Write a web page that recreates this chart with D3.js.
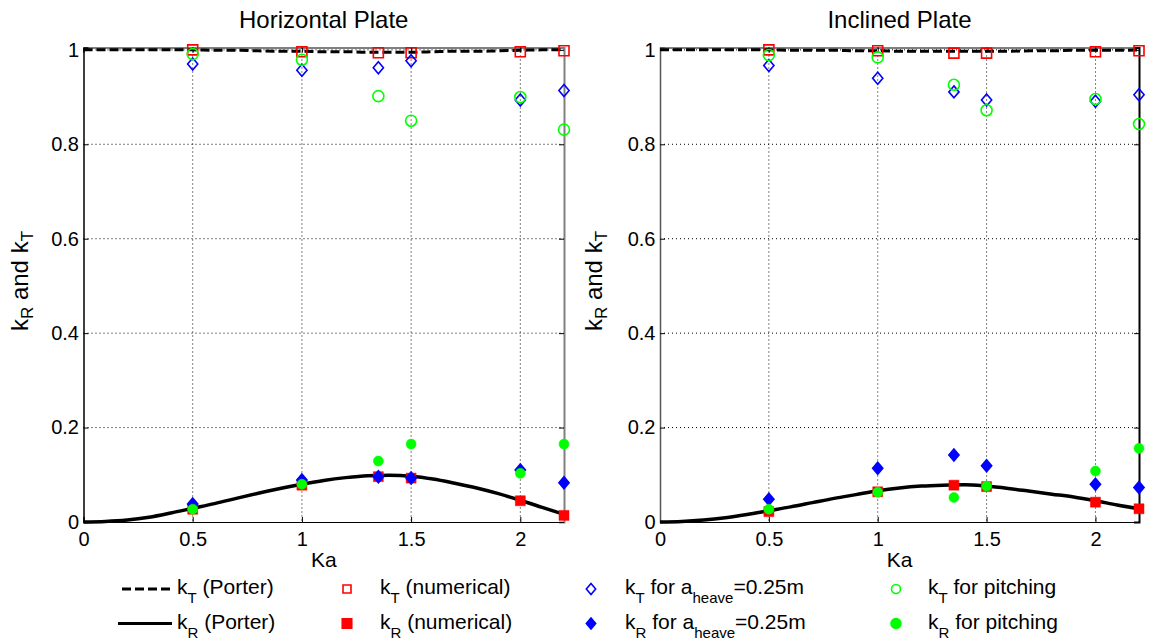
<!DOCTYPE html>
<html>
<head>
<meta charset="utf-8">
<script src="https://cdn.jsdelivr.net/npm/d3@7"></script>
<style>
  body { margin: 0; background: #fff; }
  text { font-family: "Liberation Sans", Arial, sans-serif; fill: #000; }
</style>
</head>
<body>
<script>
// Ka sample points for the Porter curves
const porterKa = [0, 0.1, 0.2, 0.3, 0.4, 0.5, 0.6, 0.7, 0.8, 0.9, 1.0, 1.1, 1.2, 1.3, 1.4, 1.5, 1.6, 1.7, 1.8, 1.9, 2.0, 2.1, 2.2]
// Ka of the measured / computed points
const pointKa = [0.5, 1.0, 1.35, 1.5, 2.0, 2.2]

// Horizontal plate
const hPorterKR = [0, 0.001, 0.004, 0.010, 0.019, 0.029, 0.039, 0.050, 0.061, 0.071, 0.080, 0.088, 0.094, 0.098, 0.099, 0.097, 0.091, 0.082, 0.072, 0.060, 0.046, 0.031, 0.016]
const hPorterKT = [1.000, 1.000, 1.000, 1.000, 1.000, 1.000, 0.999, 0.999, 0.998, 0.997, 0.997, 0.996, 0.996, 0.995, 0.995, 0.995, 0.996, 0.997, 0.997, 0.998, 0.999, 1.000, 1.000]
const hNumKT = [1.000, 0.996, 0.994, 0.994, 0.996, 0.998]
const hNumKR = [0.027, 0.078, 0.096, 0.093, 0.045, 0.014]
const hHeaveKT = [0.970, 0.957, 0.962, 0.977, 0.894, 0.914]
const hHeaveKR = [0.038, 0.089, 0.096, 0.093, 0.110, 0.083]
const hPitchKT = [0.991, 0.979, 0.902, 0.850, 0.900, 0.831]
const hPitchKR = [0.027, 0.080, 0.129, 0.165, 0.103, 0.165]

// Inclined plate
const iPorterKR = [0, 0.001, 0.004, 0.009, 0.016, 0.024, 0.032, 0.041, 0.050, 0.058, 0.066, 0.072, 0.076, 0.078, 0.079, 0.076, 0.071, 0.065, 0.059, 0.053, 0.045, 0.036, 0.028]
const iPorterKT = [1.000, 1.000, 1.000, 1.000, 1.000, 1.000, 0.999, 0.999, 0.999, 0.998, 0.998, 0.997, 0.997, 0.997, 0.997, 0.997, 0.997, 0.998, 0.998, 0.999, 0.999, 0.999, 1.000]
const iNumKT = [1.000, 0.998, 0.993, 0.993, 0.996, 0.998]
const iNumKR = [0.022, 0.064, 0.078, 0.075, 0.042, 0.028]
const iHeaveKT = [0.967, 0.940, 0.911, 0.894, 0.891, 0.905]
const iHeaveKR = [0.048, 0.114, 0.142, 0.119, 0.080, 0.073]
const iPitchKT = [0.989, 0.984, 0.926, 0.872, 0.896, 0.843]
const iPitchKR = [0.027, 0.063, 0.052, 0.076, 0.108, 0.156]

const xTicks = [0, 0.5, 1, 1.5, 2]
const yTicks = [0, 0.2, 0.4, 0.6, 0.8, 1]

const RED = "#ff0000", BLUE = "#0000ff", GREEN = "#00ff00"

var width = 1149,
    height = 642;

var svg = d3.select("body").append("svg")
    .attr("width", width)
    .attr("height", height);

const panels = [
    { title: "Horizontal Plate", x0: 83.5, x1: 564, leftColor: "#000", rightColor: "#808080", ylabX: 28,
      pKR: hPorterKR, pKT: hPorterKT, numKT: hNumKT, numKR: hNumKR,
      heaveKT: hHeaveKT, heaveKR: hHeaveKR, pitchKT: hPitchKT, pitchKR: hPitchKR },
    { title: "Inclined Plate", x0: 660, x1: 1139, leftColor: "#555", rightColor: "#000", ylabX: 602,
      pKR: iPorterKR, pKT: iPorterKT, numKT: iNumKT, numKR: iNumKR,
      heaveKT: iHeaveKT, heaveKR: iHeaveKR, pitchKT: iPitchKT, pitchKR: iPitchKR }
]

const yTop = 47.5, yBot = 522

// subscript helper: parts = [[text, isSub], ...]
function richText(sel, parts, subSize, shift) {
    let down = false
    parts.forEach(([t, sub]) => {
        const ts = sel.append("tspan").text(t)
        if (sub) {
            ts.attr("font-size", subSize)
            if (!down) { ts.attr("dy", shift); down = true }
        } else if (down) { ts.attr("dy", -shift); down = false }
    })
}

const sqr = d3.symbol().type(d3.symbolSquare)
const diamondPath = s => `M0,${-s}L${s * 0.85},0L0,${s}L${-s * 0.85},0Z`

panels.forEach(p => {
    const x = d3.scaleLinear().domain([0, 2.2]).range([p.x0, p.x1])
    const y = d3.scaleLinear().domain([0, 1.005]).range([yBot, yTop])
    const g = svg.append("g")

    // grid
    g.selectAll(".gx").data(xTicks.slice(1)).join("line")
        .attr("x1", d => x(d)).attr("x2", d => x(d))
        .attr("y1", yTop).attr("y2", yBot)
        .attr("stroke", "#000").attr("stroke-width", 1).attr("stroke-dasharray", "1,3")
    g.selectAll(".gy").data(yTicks.slice(1)).join("line")
        .attr("x1", p.x0).attr("x2", p.x1)
        .attr("y1", d => y(d)).attr("y2", d => y(d))
        .attr("stroke", "#000").attr("stroke-width", 1).attr("stroke-dasharray", "1,3")

    // axes with inward ticks
    g.append("g").attr("transform", `translate(0,${yBot})`)
        .call(d3.axisBottom(x).tickValues(xTicks).tickSize(-5).tickPadding(9.5).tickFormat(d3.format("")))
    g.append("g").attr("transform", `translate(0,${yTop})`)
        .call(d3.axisTop(x).tickValues(xTicks).tickSize(-5).tickFormat(""))
    const la = g.append("g").attr("transform", `translate(${p.x0},0)`)
        .call(d3.axisLeft(y).tickValues(yTicks).tickSize(-5).tickPadding(4.5).tickFormat(d3.format("")))
    const ra = g.append("g").attr("transform", `translate(${p.x1},0)`)
        .call(d3.axisRight(y).tickValues(yTicks).tickSize(-5).tickFormat(""))
    g.selectAll(".domain").attr("stroke", "#000")
    g.selectAll(".tick line").attr("stroke", "#000")
    la.select(".domain").attr("stroke", p.leftColor).attr("stroke-width", 1.5)
    ra.select(".domain").attr("stroke", p.rightColor).attr("stroke-width", 2)
    g.selectAll(".tick text").attr("font-size", 20)

    // Porter curves
    const line = d3.line().x((d, i) => x(porterKa[i])).y(d => y(d)).curve(d3.curveMonotoneX)
    g.append("path").datum(p.pKT).attr("d", line).attr("fill", "none")
        .attr("stroke", "#000").attr("stroke-width", 3).attr("stroke-dasharray", "9,4")
    g.append("path").datum(p.pKR).attr("d", line).attr("fill", "none")
        .attr("stroke", "#000").attr("stroke-width", 3.5)

    const drawSquares = (vals, filled) => g.selectAll(null).data(vals).join("path")
        .attr("d", sqr.size(100)())
        .attr("transform", (d, i) => `translate(${x(pointKa[i])},${y(d)})`)
        .attr("fill", filled ? RED : "none").attr("stroke", RED).attr("stroke-width", filled ? 0.5 : 1.6)
    const drawDiamonds = (vals, filled) => g.selectAll(null).data(vals).join("path")
        .attr("d", diamondPath(6))
        .attr("transform", (d, i) => `translate(${x(pointKa[i])},${y(d)})`)
        .attr("fill", filled ? BLUE : "none").attr("stroke", BLUE).attr("stroke-width", 1.6)
    const drawCircles = (vals, filled) => g.selectAll(null).data(vals).join("circle")
        .attr("cx", (d, i) => x(pointKa[i])).attr("cy", d => y(d))
        .attr("r", filled ? 5 : 5.5)
        .attr("fill", filled ? GREEN : "none").attr("stroke", GREEN).attr("stroke-width", filled ? 0.5 : 1.6)

    drawSquares(p.numKT, false)
    drawSquares(p.numKR, true)
    drawDiamonds(p.heaveKT, false)
    drawDiamonds(p.heaveKR, true)
    drawCircles(p.pitchKT, false)
    drawCircles(p.pitchKR, true)

    // title and labels
    const cx = (p.x0 + p.x1) / 2
    svg.append("text").attr("x", cx).attr("y", 28).attr("text-anchor", "middle")
        .attr("font-size", 24).text(p.title)
    svg.append("text").attr("x", cx).attr("y", 567).attr("text-anchor", "middle")
        .attr("font-size", 21).text("Ka")
    const yl = svg.append("text")
        .attr("transform", `translate(${p.ylabX},281) rotate(-90)`)
        .attr("text-anchor", "middle").attr("font-size", 24)
    richText(yl, [["k", false], ["R", true], [" and k", false], ["T", true]], 17, 5)
})

// legend
const legendItems = [
    { x: 122, row: 0, kind: "dash", text: [["k", false], ["T", true], [" (Porter)", false]] },
    { x: 122, row: 1, kind: "solid", text: [["k", false], ["R", true], [" (Porter)", false]] },
    { x: 347, row: 0, kind: "sqOpen", text: [["k", false], ["T", true], [" (numerical)", false]] },
    { x: 347, row: 1, kind: "sqFill", text: [["k", false], ["R", true], [" (numerical)", false]] },
    { x: 591, row: 0, kind: "diOpen", text: [["k", false], ["T", true], [" for a", false], ["heave", true], ["=0.25m", false]] },
    { x: 591, row: 1, kind: "diFill", text: [["k", false], ["R", true], [" for a", false], ["heave", true], ["=0.25m", false]] },
    { x: 896, row: 0, kind: "ciOpen", text: [["k", false], ["T", true], [" for pitching", false]] },
    { x: 896, row: 1, kind: "ciFill", text: [["k", false], ["R", true], [" for pitching", false]] }
]
const textX = { 122: 177, 347: 380, 591: 625, 896: 928 }

legendItems.forEach(it => {
    const cy = it.row === 0 ? 589 : 623.5
    const lg = svg.append("g")
    if (it.kind === "dash" || it.kind === "solid") {
        lg.append("line").attr("x1", it.x - (it.kind === "solid" ? 4 : 0)).attr("x2", 172)
            .attr("y1", cy).attr("y2", cy).attr("stroke", "#000").attr("stroke-width", 3)
            .attr("stroke-dasharray", it.kind === "dash" ? "9,4" : null)
    } else if (it.kind.startsWith("sq")) {
        lg.append("path").attr("d", sqr.size(it.kind === "sqFill" ? 90 : 64)())
            .attr("transform", `translate(${it.x},${cy})`)
            .attr("fill", it.kind === "sqFill" ? RED : "none").attr("stroke", RED).attr("stroke-width", 1.6)
    } else if (it.kind.startsWith("di")) {
        lg.append("path").attr("d", diamondPath(5.5))
            .attr("transform", `translate(${it.x},${cy})`)
            .attr("fill", it.kind === "diFill" ? BLUE : "none").attr("stroke", BLUE).attr("stroke-width", 1.6)
    } else {
        lg.append("circle").attr("cx", it.x).attr("cy", cy).attr("r", it.kind === "ciFill" ? 5 : 4.5)
            .attr("fill", it.kind === "ciFill" ? GREEN : "none").attr("stroke", GREEN).attr("stroke-width", 1.6)
    }
    const t = lg.append("text").attr("x", textX[it.x]).attr("y", cy + 5).attr("font-size", 21)
    richText(t, it.text, 15, 9)
})
</script>
</body>
</html>
